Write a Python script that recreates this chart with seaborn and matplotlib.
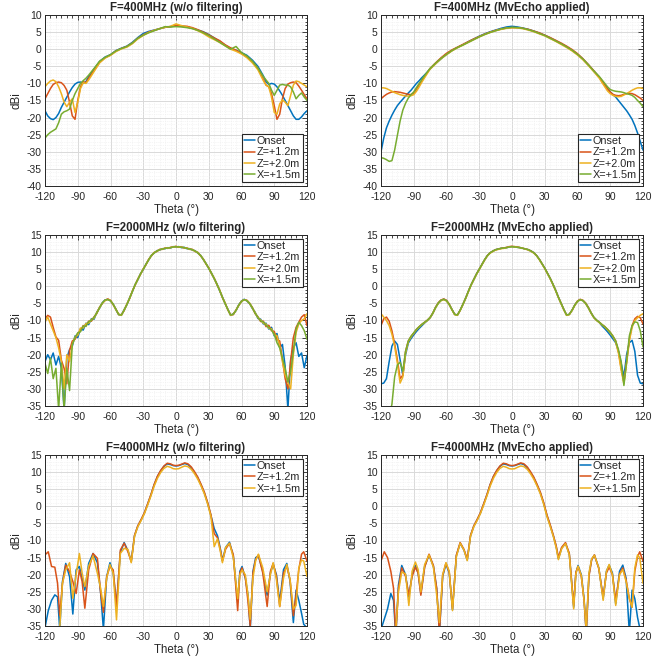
import pandas as pd
import numpy as np
import matplotlib
matplotlib.use("Agg")
import matplotlib.pyplot as plt
import seaborn as sns
from matplotlib.ticker import MultipleLocator

# ---------------------------
# Data
# ---------------------------
LABELS_4 = ["Onset", "Z=+1.2m", "Z=+2.0m", "X=+1.5m"]
LABELS_3 = ["Onset", "Z=+1.2m", "X=+1.5m"]
COLORS_4 = ["#0072BD", "#D95319", "#EDB120", "#77AC30"]
COLORS_3 = ["#0072BD", "#D95319", "#EDB120"]

# 400 MHz theta grid
T400 = [-120, -117.5, -115, -112.5, -110, -107.5, -105, -102.5, -100, -97.5,
        -95, -92.5, -90, -87.5, -85, -82.5, -80, -75, -70, -65,
        -60, -55, -50, -45, -40, -35, -30, -25, -20, -15,
        -10, -5, 0, 5, 10, 15, 20, 25, 30, 35,
        40, 45, 50, 55, 60, 65, 70, 75, 80, 82.5,
        85, 87.5, 90, 92.5, 95, 97.5, 100, 102.5, 105, 107.5,
        110, 112.5, 115, 117.5, 120]

ONSET_400_RAW = [-18.0, -19.5, -20.3, -20.6, -20.0, -18.8, -17.0, -15.5, -14.0, -12.5,
                 -11.2, -10.2, -9.7, -9.6, -10.0, -9.5, -8.0, -5.8, -3.6, -2.3,
                 -1.6, -0.4, 0.3, 0.9, 2.0, 3.4, 4.6, 5.2, 5.6, 6.0,
                 6.4, 6.6, 6.8, 6.7, 6.5, 6.1, 5.6, 5.1, 4.3, 3.3,
                 2.3, 1.2, 0.2, -0.3, -1.0, -1.8, -3.2, -5.0, -7.8, -9.5,
                 -10.3, -10.0, -10.2, -11.0, -12.2, -13.5, -15.0, -16.5, -18.0, -19.5,
                 -20.5, -20.5, -19.8, -18.8, -18.0]
Z12_400_RAW = [-14.5, -13.0, -11.5, -10.3, -9.8, -9.6, -9.8, -10.6, -12.0, -15.5,
               -19.5, -20.5, -15.0, -11.0, -9.5, -9.8, -8.5, -6.2, -3.9, -2.5,
               -1.7, -0.5, 0.2, 0.8, 1.8, 3.2, 4.2, 5.0, 5.5, 6.0,
               6.4, 6.6, 7.0, 6.8, 6.7, 6.3, 5.7, 5.0, 4.2, 3.3,
               2.5, 1.3, 0.4, -0.3, -1.2, -2.3, -3.7, -5.6, -8.8, -10.5,
               -11.0, -13.0, -16.5, -20.5, -19.0, -14.5, -11.5, -10.2, -9.8, -9.6,
               -9.8, -10.8, -12.0, -13.3, -14.5]
Z20_400_RAW = [-11.0, -10.0, -9.3, -9.0, -9.5, -11.0, -13.0, -15.5, -16.8, -15.5,
               -14.5, -18.5, -15.5, -11.5, -9.8, -10.0, -9.0, -6.5, -4.0, -2.6,
               -1.8, -0.7, 0.1, 0.6, 1.6, 3.0, 4.0, 4.9, 5.5, 6.0,
               6.4, 6.7, 7.4, 6.9, 6.5, 6.1, 5.4, 4.6, 3.6, 2.8,
               2.0, 1.0, 0.0, -0.6, -1.4, -2.5, -4.0, -6.0, -9.2, -10.5,
               -11.0, -14.0, -18.5, -19.0, -16.0, -14.8, -15.5, -16.5, -13.5, -10.5,
               -9.3, -9.5, -10.0, -10.5, -11.0]
X15_400_RAW = [-26.0, -25.0, -24.3, -23.8, -23.3, -21.5, -19.0, -18.3, -18.0, -17.5,
               -15.0, -13.0, -11.5, -10.0, -9.2, -8.5, -7.6, -5.6, -3.5, -2.4,
               -1.6, -0.5, 0.2, 0.8, 1.8, 3.2, 4.1, 4.8, 5.4, 6.0,
               6.6, 6.5, 6.6, 6.5, 6.3, 6.0, 5.5, 4.8, 4.0, 3.0,
               2.0, 1.0, 0.0, 0.8, -1.0, -2.0, -3.5, -5.5, -8.0, -9.0,
               -10.0, -12.0, -13.5, -12.0, -10.5, -10.3, -10.5, -10.5, -11.0, -12.5,
               -14.5, -13.5, -12.8, -14.0, -15.0]

ONSET_400_MV = [-30.0, -26.0, -23.0, -21.0, -19.3, -17.8, -16.5, -15.5, -14.6, -13.7,
                -12.8, -12.0, -11.0, -10.0, -9.2, -8.3, -7.5, -5.8, -4.2, -2.8,
                -1.5, -0.4, 0.5, 1.3, 2.2, 3.0, 3.8, 4.5, 5.1, 5.6,
                6.1, 6.5, 6.7, 6.5, 6.2, 5.8, 5.3, 4.7, 4.1, 3.3,
                2.5, 1.6, 0.7, -0.3, -1.5, -2.9, -4.6, -6.4, -8.2, -9.3,
                -10.5, -11.5, -12.5, -13.3, -14.0, -15.0, -16.0, -17.0, -18.0, -19.2,
                -20.5, -22.3, -24.5, -27.0, -29.5]
Z12_400_MV = [-14.5, -13.8, -13.2, -12.8, -12.5, -12.4, -12.5, -12.6, -12.8, -13.0,
              -13.2, -13.3, -12.8, -11.8, -10.5, -9.2, -8.0, -5.6, -4.0, -2.5,
              -1.2, -0.2, 0.6, 1.4, 2.2, 3.0, 3.7, 4.4, 5.0, 5.5,
              5.9, 6.2, 6.3, 6.3, 6.1, 5.8, 5.3, 4.8, 4.1, 3.4,
              2.6, 1.8, 0.9, -0.1, -1.3, -2.8, -4.5, -6.3, -8.2, -9.3,
              -10.5, -11.6, -12.5, -13.2, -13.5, -13.6, -13.5, -13.2, -13.0, -12.9,
              -13.0, -13.3, -13.8, -14.3, -15.0]
Z20_400_MV = [-11.3, -11.3, -11.5, -11.9, -12.3, -12.7, -13.0, -13.3, -13.5, -13.7,
              -13.7, -13.6, -13.3, -12.3, -11.0, -9.6, -8.3, -5.8, -4.3, -2.8,
              -1.6, -0.5, 0.4, 1.2, 2.0, 2.8, 3.6, 4.3, 4.9, 5.4,
              5.8, 6.1, 6.3, 6.2, 6.0, 5.6, 5.1, 4.5, 3.9, 3.1,
              2.3, 1.4, 0.5, -0.5, -1.7, -3.1, -4.8, -6.6, -8.5, -9.8,
              -11.0, -12.2, -13.0, -13.5, -13.8, -13.9, -13.8, -13.4, -13.0, -12.5,
              -12.0, -11.6, -11.3, -11.3, -11.5]
X15_400_MV = [-31.7, -31.9, -32.3, -32.8, -32.6, -29.5, -25.2, -21.0, -17.8, -15.8,
              -14.3, -13.3, -12.5, -11.2, -10.0, -8.8, -7.7, -5.6, -4.1, -2.7,
              -1.5, -0.4, 0.5, 1.2, 2.0, 2.8, 3.6, 4.3, 4.9, 5.4,
              5.9, 6.2, 6.4, 6.3, 6.1, 5.7, 5.2, 4.6, 4.0, 3.2,
              2.4, 1.6, 0.7, -0.3, -1.5, -2.9, -4.6, -6.4, -8.0, -9.0,
              -10.0, -11.0, -11.8, -12.1, -12.3, -12.4, -12.5, -12.7, -13.0, -13.2,
              -13.5, -14.1, -15.0, -15.8, -16.8]

# 2000 MHz theta grid
T2000 = [-120, -117.5, -115, -112.5, -110, -107.5, -105, -102.5, -100, -97.5,
         -95, -92.5, -90, -87.5, -85, -82.5, -80, -77.5, -75, -72.5,
         -70, -67.5, -65, -62.5, -60, -57.5, -55, -52.5, -50, -47.5,
         -45, -42.5, -40, -37.5, -35, -32.5, -30, -27.5, -25, -22.5,
         -20, -17.5, -15, -12.5, -10, -7.5, -5, -2.5, 0, 2.5,
         5, 7.5, 10, 12.5, 15, 17.5, 20, 22.5, 25, 27.5,
         30, 32.5, 35, 37.5, 40, 42.5, 45, 47.5, 50, 52.5,
         55, 57.5, 60, 62.5, 65, 67.5, 70, 72.5, 75, 77.5,
         80, 82.5, 85, 87.5, 90, 92.5, 95, 97.5, 100, 102.5,
         105, 107.5, 110, 112.5, 115, 117.5, 120]

ONSET_2000_RAW = [-22.0, -20.0, -21.5, -19.5, -23.0, -20.5, -24.0, -36.0, -21.0, -18.5,
                  -17.5, -14.5, -15.0, -12.4, -12.8, -10.8, -11.2, -9.5, -9.6, -7.5,
                  -6.4, -4.8, -4.0, -3.8, -4.3, -5.2, -6.9, -8.2, -8.4, -6.8,
                  -5.4, -3.4, -1.6, 0.5, 1.9, 3.7, 4.9, 6.5, 7.7, 9.1,
                  9.7, 10.4, 10.6, 11.0, 11.0, 11.3, 11.2, 11.6, 11.5, 11.6,
                  11.3, 11.4, 11.0, 11.0, 10.6, 10.4, 9.7, 9.1, 7.8, 6.7,
                  5.2, 3.9, 2.2, 0.7, -1.3, -3.1, -5.1, -6.7, -8.5, -8.0,
                  -7.1, -5.4, -4.3, -3.8, -4.3, -5.1, -6.5, -7.6, -9.4, -9.6,
                  -11.0, -10.8, -12.5, -12.0, -14.5, -13.8, -18.0, -17.0, -23.5, -36.0,
                  -21.5, -18.0, -16.5, -20.5, -19.5, -23.8, -20.2]
Z12_2000_RAW = [-9.5, -8.5, -9.0, -12.0, -14.8, -15.8, -21.6, -24.0, -28.5, -18.7,
                -16.0, -15.5, -13.8, -13.0, -11.5, -11.6, -10.2, -10.2, -8.9, -7.9,
                -6.1, -5.0, -4.1, -3.7, -4.1, -5.4, -6.7, -8.3, -8.3, -7.1,
                -5.2, -3.6, -1.4, 0.3, 2.1, 3.5, 5.1, 6.3, 7.9, 8.9,
                9.9, 10.2, 10.8, 10.8, 11.2, 11.1, 11.4, 11.5, 11.7, 11.4,
                11.5, 11.2, 11.2, 10.8, 10.8, 10.2, 9.9, 8.9, 8.0, 6.5,
                5.4, 3.7, 2.4, 0.5, -1.1, -3.3, -4.9, -6.9, -8.3, -8.3,
                -6.9, -5.6, -4.4, -3.9, -4.1, -5.0, -6.2, -8.0, -8.9, -10.3,
                -10.2, -11.8, -11.4, -13.0, -13.2, -15.5, -16.0, -21.5, -27.0, -30.0,
                -22.0, -15.0, -12.0, -10.5, -9.0, -8.3, -11.5]
Z20_2000_RAW = [-10.5, -9.0, -11.0, -13.0, -15.0, -18.0, -22.0, -30.0, -20.0, -22.0,
                -17.0, -14.8, -14.3, -12.2, -12.2, -10.9, -10.8, -9.7, -9.3, -7.6,
                -6.3, -4.9, -4.2, -3.8, -4.2, -5.3, -6.9, -8.1, -8.5, -6.9,
                -5.3, -3.5, -1.5, 0.4, 2.0, 3.6, 5.0, 6.4, 7.8, 9.0,
                9.8, 10.3, 10.7, 10.9, 11.1, 11.2, 11.3, 11.5, 11.6, 11.5,
                11.4, 11.3, 11.1, 10.9, 10.7, 10.3, 9.8, 9.0, 7.9, 6.6,
                5.3, 3.8, 2.3, 0.6, -1.2, -3.2, -5.0, -6.8, -8.5, -8.1,
                -7.0, -5.5, -4.4, -3.9, -4.2, -5.0, -6.4, -7.7, -9.2, -9.8,
                -10.8, -11.0, -12.3, -12.4, -14.2, -14.4, -17.5, -22.0, -26.0, -28.0,
                -30.0, -20.0, -13.5, -11.0, -10.0, -9.5, -8.0]
X15_2000_RAW = [-22.5, -25.5, -21.0, -27.0, -24.0, -36.0, -22.5, -36.0, -24.0, -30.5,
                -17.0, -15.0, -13.6, -13.3, -11.6, -11.7, -10.3, -10.0, -9.0, -7.8,
                -6.2, -4.9, -4.0, -3.9, -4.2, -5.3, -6.7, -8.3, -8.4, -7.0,
                -5.3, -3.5, -1.5, 0.4, 2.0, 3.6, 5.0, 6.4, 7.8, 9.0,
                9.8, 10.3, 10.7, 10.9, 11.1, 11.2, 11.3, 11.5, 11.6, 11.5,
                11.4, 11.3, 11.1, 10.9, 10.7, 10.3, 9.8, 9.0, 7.9, 6.6,
                5.3, 3.8, 2.3, 0.6, -1.2, -3.2, -5.0, -6.8, -8.4, -8.2,
                -7.0, -5.5, -4.4, -3.9, -4.2, -5.0, -6.3, -7.9, -9.0, -10.1,
                -10.4, -11.4, -12.0, -12.8, -14.0, -16.5, -18.0, -21.0, -24.0, -28.0,
                -25.0, -19.0, -12.5, -10.5, -11.5, -13.0, -15.5]

ONSET_2000_MV = [-28.5, -28.3, -27.0, -22.0, -17.5, -16.0, -17.0, -21.5, -26.0, -20.0,
                 -16.6, -15.3, -14.2, -13.2, -12.3, -11.5, -10.7, -10.0, -9.2, -7.9,
                 -6.2, -4.9, -4.1, -3.8, -4.2, -5.3, -6.8, -8.2, -8.4, -7.0,
                 -5.3, -3.5, -1.5, 0.4, 2.0, 3.6, 5.0, 6.4, 7.8, 9.0,
                 9.8, 10.3, 10.7, 10.9, 11.1, 11.2, 11.3, 11.5, 11.6, 11.5,
                 11.4, 11.3, 11.1, 10.9, 10.7, 10.3, 9.8, 9.0, 7.9, 6.6,
                 5.3, 3.8, 2.3, 0.6, -1.2, -3.2, -5.0, -6.8, -8.4, -8.2,
                 -7.0, -5.5, -4.4, -3.9, -4.2, -5.0, -6.3, -7.8, -9.1, -9.9,
                 -10.6, -11.6, -12.4, -13.3, -14.3, -15.4, -16.5, -19.0, -22.5, -26.5,
                 -20.0, -16.5, -15.8, -19.0, -26.0, -28.3, -28.5]
Z12_2000_MV = [-11.5, -9.5, -9.0, -10.2, -13.0, -16.8, -21.5, -27.0, -26.0, -19.0,
               -16.0, -14.7, -13.7, -12.6, -11.8, -11.1, -10.5, -9.9, -9.1, -7.8,
               -6.1, -4.8, -4.0, -3.7, -4.1, -5.2, -6.8, -8.2, -8.4, -7.0,
               -5.3, -3.5, -1.5, 0.4, 2.0, 3.6, 5.0, 6.4, 7.8, 9.0,
               9.8, 10.3, 10.7, 10.9, 11.1, 11.2, 11.4, 11.6, 11.7, 11.6,
               11.5, 11.3, 11.1, 10.9, 10.7, 10.3, 9.8, 9.0, 7.9, 6.6,
               5.3, 3.8, 2.3, 0.6, -1.2, -3.2, -5.0, -6.8, -8.4, -8.2,
               -7.0, -5.5, -4.3, -3.8, -4.1, -4.9, -6.2, -7.8, -9.1, -9.9,
               -10.5, -11.2, -11.8, -12.6, -13.5, -14.6, -16.0, -19.0, -24.0, -28.0,
               -22.0, -15.5, -11.5, -9.5, -8.8, -9.2, -11.0]
Z20_2000_MV = [-8.0, -9.0, -10.0, -11.5, -14.0, -17.5, -22.5, -28.3, -26.5, -19.5,
               -16.2, -14.8, -13.7, -12.7, -11.9, -11.2, -10.6, -10.0, -9.2, -7.9,
               -6.3, -5.0, -4.2, -3.9, -4.3, -5.4, -6.9, -8.3, -8.5, -7.1,
               -5.4, -3.6, -1.6, 0.3, 1.9, 3.5, 4.9, 6.3, 7.7, 8.9,
               9.7, 10.2, 10.6, 10.8, 11.0, 11.1, 11.3, 11.5, 11.6, 11.5,
               11.4, 11.3, 11.1, 10.9, 10.6, 10.2, 9.7, 8.9, 7.8, 6.5,
               5.2, 3.7, 2.2, 0.5, -1.3, -3.3, -5.1, -6.9, -8.5, -8.3,
               -7.1, -5.6, -4.4, -3.9, -4.2, -5.1, -6.4, -7.9, -9.2, -10.0,
               -10.6, -11.3, -11.9, -12.7, -13.6, -14.7, -16.3, -19.5, -24.5, -28.5,
               -22.5, -16.0, -12.0, -10.0, -9.2, -8.5, -8.0]
X15_2000_MV = [-48.0, -45.0, -41.5, -38.0, -34.5, -26.5, -23.0, -22.2, -24.8, -19.0,
               -16.0, -14.6, -13.6, -12.6, -11.8, -11.1, -10.5, -9.9, -9.1, -7.8,
               -6.2, -4.9, -4.1, -3.8, -4.2, -5.3, -6.8, -8.2, -8.4, -7.0,
               -5.3, -3.5, -1.5, 0.4, 2.0, 3.6, 5.0, 6.4, 7.8, 9.0,
               9.8, 10.3, 10.7, 10.9, 11.1, 11.2, 11.3, 11.5, 11.6, 11.5,
               11.4, 11.3, 11.1, 10.9, 10.7, 10.3, 9.8, 9.0, 7.9, 6.6,
               5.3, 3.8, 2.3, 0.6, -1.2, -3.2, -5.0, -6.8, -8.4, -8.2,
               -7.0, -5.5, -4.4, -3.9, -4.2, -5.0, -6.3, -7.8, -9.1, -9.9,
               -10.5, -11.2, -11.8, -12.6, -13.5, -14.6, -16.0, -18.5, -22.0, -29.0,
               -22.0, -14.5, -11.5, -10.4, -10.6, -13.0, -17.7]

# 4000 MHz theta grid (denser around nulls)
T4000 = [-120, -117, -114, -111, -108.5, -106.5, -104, -101, -97.5, -94.5,
         -91.5, -88.5, -86, -83.5, -80, -76, -72, -69, -66.5, -63.5,
         -60.5, -57.5, -54.5, -51, -47.5, -44, -41, -38, -35, -32,
         -29, -26, -23, -20, -17, -14, -11, -8, -5, -2.5,
         0, 2.5, 5, 8, 11, 14, 17, 20, 23, 26,
         29, 32, 35, 38, 40.5, 42.5, 45.5, 49, 52.5, 56.5,
         58.5, 60.5, 63.5, 66, 68, 70.5, 73, 75.5, 79.5, 83.5,
         86.5, 89, 92, 95, 98.5, 101.5, 104.5, 107.5, 110, 112.5,
         115, 117, 120]

ONSET_4000_RAW = [-35.5, -30.5, -27.5, -25.9, -26.5, -36.0, -22.0, -16.7, -20.6, -31.5,
                  -18.6, -17.6, -21.0, -24.5, -16.7, -13.8, -16.5, -25.4, -36.0, -20.6,
                  -16.5, -19.5, -29.0, -13.5, -10.6, -13.0, -16.0, -8.6, -5.8, -4.0,
                  -2.0, 0.6, 3.3, 6.3, 8.7, 10.4, 11.7, 12.4, 12.2, 11.9,
                  11.8, 11.9, 12.2, 12.5, 12.2, 11.3, 9.9, 8.3, 6.2, 3.9,
                  0.9, -2.7, -6.5, -8.6, -12.2, -15.8, -12.0, -10.5, -14.5, -28.0,
                  -19.0, -17.6, -21.0, -26.0, -36.0, -19.0, -15.0, -14.5, -19.0, -26.0,
                  -19.5, -17.0, -20.0, -28.0, -18.5, -16.7, -22.0, -34.0, -24.5, -27.5,
                  -31.3, -34.5, -35.5]
Z12_4000_RAW = [-14.2, -13.3, -17.6, -17.8, -22.5, -32.0, -22.5, -17.2, -19.1, -22.0,
                -25.5, -18.6, -22.0, -29.8, -18.6, -13.8, -15.2, -25.4, -31.0, -20.6,
                -17.6, -18.6, -29.3, -12.8, -10.8, -13.3, -16.2, -8.5, -5.7, -3.9,
                -1.9, 0.7, 3.4, 6.4, 8.8, 10.5, 11.8, 12.6, 12.4, 12.0,
                11.9, 12.0, 12.3, 12.7, 12.4, 11.5, 10.1, 8.5, 6.4, 4.1,
                1.1, -2.5, -8.0, -9.2, -12.5, -16.0, -12.5, -10.8, -14.2, -30.5,
                -19.5, -18.0, -20.8, -28.0, -35.0, -19.5, -15.5, -14.2, -19.5, -29.3,
                -19.0, -16.7, -20.5, -29.3, -19.5, -17.5, -21.5, -32.0, -26.0, -18.5,
                -14.0, -13.3, -16.0]
X15_4000_RAW = [-40.0, -40.0, -40.0, -40.0, -38.0, -35.5, -22.5, -18.6, -16.5, -26.9,
                -20.0, -13.8, -19.5, -23.5, -17.5, -14.5, -19.6, -24.0, -29.3, -21.0,
                -17.0, -19.6, -33.2, -13.8, -12.3, -12.6, -16.5, -8.8, -6.0, -4.2,
                -2.2, 0.3, 3.0, 5.9, 8.2, 9.9, 11.1, 11.7, 11.4, 11.0,
                10.9, 11.0, 11.4, 11.8, 11.6, 10.8, 9.5, 7.9, 5.9, 3.6,
                0.6, -3.0, -11.8, -9.5, -13.0, -16.5, -12.0, -10.8, -15.0, -27.0,
                -20.0, -18.6, -20.0, -26.0, -33.0, -21.0, -15.8, -14.0, -18.0, -25.0,
                -20.0, -16.5, -21.5, -29.3, -21.0, -17.0, -21.5, -30.0, -29.0, -18.0,
                -15.7, -16.0, -20.5]

ONSET_4000_MV = [-36.0, -33.0, -30.0, -25.5, -27.5, -38.0, -23.0, -17.3, -20.0, -26.5,
                 -20.0, -17.3, -19.5, -25.5, -17.5, -14.3, -17.5, -24.0, -37.0, -20.5,
                 -16.9, -19.5, -30.3, -14.5, -10.8, -12.8, -15.7, -8.6, -5.8, -4.0,
                 -2.0, 0.6, 3.3, 6.3, 8.7, 10.4, 11.7, 12.4, 12.2, 11.9,
                 11.8, 11.9, 12.2, 12.5, 12.2, 11.3, 9.9, 8.3, 6.2, 3.9,
                 0.9, -2.7, -5.6, -8.8, -11.8, -15.3, -12.2, -10.8, -14.0, -29.5,
                 -19.5, -17.3, -20.0, -27.0, -37.0, -20.0, -15.5, -14.3, -18.0, -27.0,
                 -19.0, -17.2, -19.5, -28.5, -19.0, -17.2, -21.0, -37.0, -24.5, -27.0,
                 -32.5, -35.5, -37.0]
Z12_4000_MV = [-16.0, -13.3, -15.0, -19.0, -24.0, -38.0, -24.0, -18.0, -20.5, -26.0,
               -20.5, -17.8, -19.5, -26.0, -17.8, -14.0, -17.3, -24.0, -37.0, -20.2,
               -16.6, -19.2, -30.0, -14.3, -10.6, -12.6, -15.5, -8.5, -5.7, -3.9,
               -1.9, 0.7, 3.4, 6.4, 8.8, 10.5, 11.8, 12.6, 12.4, 12.0,
               11.9, 12.0, 12.3, 12.7, 12.4, 11.5, 10.1, 8.5, 6.4, 4.1,
               1.1, -2.5, -5.4, -8.6, -11.6, -15.0, -12.0, -10.6, -13.8, -29.0,
               -19.3, -17.6, -20.5, -27.5, -37.0, -20.5, -15.6, -14.2, -18.2, -26.5,
               -19.5, -17.8, -20.0, -27.5, -19.8, -18.0, -21.5, -27.0, -29.5, -19.0,
               -14.8, -13.3, -16.0]
X15_4000_MV = [-40.0, -40.0, -40.0, -40.0, -39.0, -36.0, -25.0, -19.2, -19.8, -29.0,
               -19.0, -16.3, -18.5, -25.0, -17.0, -14.2, -17.8, -26.0, -34.0, -20.0,
               -16.5, -19.0, -30.5, -14.8, -10.8, -12.8, -15.9, -8.8, -6.0, -4.2,
               -2.2, 0.3, 3.0, 5.9, 8.2, 9.9, 11.1, 11.7, 11.4, 11.0,
               10.9, 11.0, 11.4, 11.8, 11.6, 10.8, 9.5, 7.9, 5.9, 3.6,
               0.6, -3.0, -5.9, -9.0, -12.2, -15.6, -12.4, -10.9, -14.2, -30.0,
               -19.8, -17.5, -20.3, -27.5, -36.0, -19.5, -15.3, -14.3, -18.0, -27.5,
               -19.0, -17.0, -20.0, -29.0, -20.0, -18.5, -22.0, -27.0, -29.5, -18.0,
               -14.2, -15.0, -22.5]

# ---------------------------
# Layout (axes boxes in pixels)
# ---------------------------
FIG_W, FIG_H = 672, 662
COL_X = [45, 381]
ROW_TOP = [15, 235, 455]
AX_W, AX_H = 262, 171


def build_frame(theta, labels, series):
    """Long-form frame for seaborn"""
    parts = [pd.DataFrame({"theta": theta, "dBi": vals, "series": lab})
             for lab, vals in zip(labels, series)]
    return pd.concat(parts, ignore_index=True)


def draw_panel(ax, theta, labels, colors, series, title, ylim, loc):
    df = build_frame(theta, labels, series)
    sns.lineplot(data=df, x="theta", y="dBi", hue="series", hue_order=labels,
                 palette=colors, estimator=None, linewidth=1.1, ax=ax)
    ax.set_xlim(-120, 120)
    ax.set_ylim(*ylim)
    ax.xaxis.set_major_locator(MultipleLocator(30))
    ax.xaxis.set_minor_locator(MultipleLocator(5))
    ax.yaxis.set_major_locator(MultipleLocator(5))
    ax.yaxis.set_minor_locator(MultipleLocator(1))
    ax.set_axisbelow(True)
    ax.grid(which="major", color="#d9d9d9", linewidth=0.7)
    ax.grid(which="minor", color="#ececec", linewidth=0.5, linestyle=":")
    ax.tick_params(which="both", direction="in", top=True, right=True,
                   colors="#262626", labelsize=7.5, width=0.6)
    ax.tick_params(axis="y", which="major", pad=2.5)
    ax.tick_params(axis="x", which="major", pad=4.5)
    ax.tick_params(which="major", length=3.5)
    ax.tick_params(which="minor", length=1.8)
    for sp in ax.spines.values():
        sp.set_color("#262626")
        sp.set_linewidth(0.7)
    ax.set_title(title, fontsize=8.3, fontweight="bold", pad=3)
    ax.set_xlabel("Theta (°)", fontsize=8.3, color="#262626", labelpad=1)
    ax.set_ylabel("dBi", fontsize=8.3, color="#262626", labelpad=3)
    sns.move_legend(ax, loc, title=None, frameon=True, fancybox=False,
                    edgecolor="#262626", framealpha=1, fontsize=7.8,
                    handlelength=0.95, handletextpad=0.2, borderpad=0.2,
                    labelspacing=0.12, borderaxespad=0.35)
    ax.get_legend().get_frame().set_linewidth(0.8)


if __name__ == "__main__":
    sns.set_theme(style="white")
    plt.rcParams["font.family"] = ["Liberation Sans", "DejaVu Sans"]
    plt.rcParams["axes.unicode_minus"] = False

    fig = plt.figure(figsize=(FIG_W / 100, FIG_H / 100), dpi=100)

    def add_ax(row, col):
        l = COL_X[col] / FIG_W
        b = 1 - (ROW_TOP[row] + AX_H) / FIG_H
        return fig.add_axes([l, b, AX_W / FIG_W, AX_H / FIG_H])

    draw_panel(add_ax(0, 0), T400, LABELS_4, COLORS_4,
               [ONSET_400_RAW, Z12_400_RAW, Z20_400_RAW, X15_400_RAW],
               "F=400MHz (w/o filtering)", (-40, 10), "lower right")
    draw_panel(add_ax(0, 1), T400, LABELS_4, COLORS_4,
               [ONSET_400_MV, Z12_400_MV, Z20_400_MV, X15_400_MV],
               "F=400MHz (MvEcho applied)", (-40, 10), "lower right")
    draw_panel(add_ax(1, 0), T2000, LABELS_4, COLORS_4,
               [ONSET_2000_RAW, Z12_2000_RAW, Z20_2000_RAW, X15_2000_RAW],
               "F=2000MHz (w/o filtering)", (-35, 15), "upper right")
    draw_panel(add_ax(1, 1), T2000, LABELS_4, COLORS_4,
               [ONSET_2000_MV, Z12_2000_MV, Z20_2000_MV, X15_2000_MV],
               "F=2000MHz (MvEcho applied)", (-35, 15), "upper right")
    draw_panel(add_ax(2, 0), T4000, LABELS_3, COLORS_3,
               [ONSET_4000_RAW, Z12_4000_RAW, X15_4000_RAW],
               "F=4000MHz (w/o filtering)", (-35, 15), "upper right")
    draw_panel(add_ax(2, 1), T4000, LABELS_3, COLORS_3,
               [ONSET_4000_MV, Z12_4000_MV, X15_4000_MV],
               "F=4000MHz (MvEcho applied)", (-35, 15), "upper right")

    fig.savefig("out.png", dpi=100)
